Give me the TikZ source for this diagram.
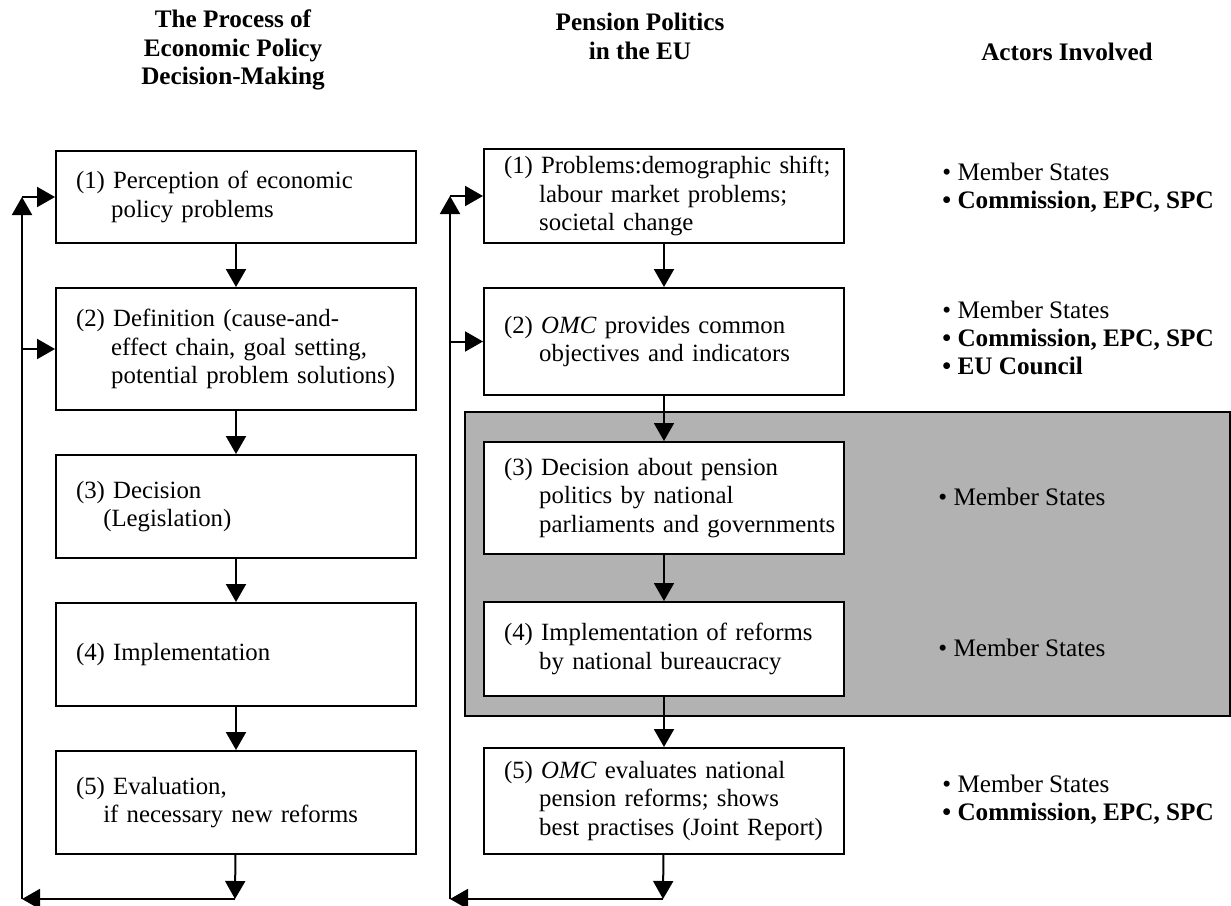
\documentclass[tikz,border=0pt]{standalone}
\usepackage{fontspec}
\setmainfont{Liberation Serif}
\usetikzlibrary{arrows.meta,positioning}

\newcommand{\hang}{\hspace*{1.42em}}
\newcommand{\sub}{\hspace*{1.1em}}

\begin{document}
\begin{tikzpicture}[x=0.5pt,y=-0.5pt,>={Triangle[length=9pt,width=10pt]},
    font=\fontsize{12.4}{14.2}\selectfont]
  \tikzstyle{stage}=[rectangle,draw=black,line width=1pt,fill=white,anchor=north west,
              text width=172pt,inner xsep=4pt,align=left,minimum width=180pt,
              execute at begin node={\leftskip=6pt}]
  \tikzstyle{panel}=[rectangle,draw=black,line width=0.8pt,fill=black!30,anchor=north west]
  \tikzstyle{flow}=[->,line width=1pt]
  \tikzstyle{head}=[align=center,font=\fontsize{12.6}{14.4}\selectfont\bfseries]
  \tikzstyle{actors}=[align=left,anchor=west,inner sep=0pt,font=\fontsize{12.6}{14}\selectfont]
  \useasboundingbox (0,0) rectangle (1231,905);

  % headings
  \node [head] (hep) at (233,50) {The Process of\\Economic Policy\\Decision-Making};
  \node [head] (hpp) at (640,36) {Pension Politics\\in the EU};
  \node [head] (hac) at (1067,52) {Actors Involved};

  % grey band for steps 3 and 4
  \node [panel,minimum width=382.5pt,minimum height=152pt] (omc) at (464,411) {};

  % economic policy cycle
  \node [stage,minimum height=46pt] (ep1) at (55,150)
    {(1) Perception of economic\\ \hang policy problems};
  \node [stage,minimum height=61pt] (ep2) at (55,287)
    {(2) Definition (cause-and-\\ \hang effect chain, goal setting,\\ \hang potential problem solutions)};
  \node [stage,minimum height=51.5pt] (ep3) at (55,454)
    {(3) Decision\\ \sub(Legislation)};
  \node [stage,minimum height=51.5pt] (ep4) at (55,602)
    {(4) Implementation};
  \node [stage,minimum height=51.5pt] (ep5) at (55,750)
    {(5) Evaluation,\\ \sub if necessary new reforms};

  % pension politics cycle
  \node [stage,minimum height=47pt] (pp1) at (483,148)
    {(1) Problems:demographic shift;\\ \hang labour market problems;\\ \hang societal change};
  \node [stage,minimum height=53.5pt] (pp2) at (483,287)
    {(2) \textit{OMC} provides common\\ \hang objectives and indicators};
  \node [stage,minimum height=56pt] (pp3) at (483,441)
    {(3) Decision about pension\\ \hang politics by national\\ \hang parliaments and governments};
  \node [stage,minimum height=47pt] (pp4) at (483,601)
    {(4) Implementation of reforms\\ \hang by national bureaucracy};
  \node [stage,minimum height=53pt] (pp5) at (483,747)
    {(5) \textit{OMC} evaluates national\\ \hang pension reforms; shows\\ \hang best practises (Joint Report)};

  % actors
  \node [actors] (ac1) at (942,188) {• Member States\\\textbf{• Commission, EPC, SPC}};
  \node [actors] (ac2) at (942,338) {• Member States\\\textbf{• Commission, EPC, SPC}\\\textbf{• EU Council}};
  \node [actors] (ac3) at (938,497) {• Member States};
  \node [actors] (ac4) at (938,648) {• Member States};
  \node [actors] (ac5) at (942,800) {• Member States\\\textbf{• Commission, EPC, SPC}};

  % feedback corners
  \coordinate (epdown) at (235,899);
  \coordinate (epcorner) at (22,899);
  \coordinate (eptop) at (epcorner |- ep1.west);
  \coordinate (epmid) at (epcorner |- ep2.west);
  \coordinate (ppdown) at (663,899);
  \coordinate (ppcorner) at (450,899);
  \coordinate (pptop) at (ppcorner |- pp1.west);
  \coordinate (ppmid) at (ppcorner |- pp2.west);

  \draw [flow] (ep1) -- (ep2);
  \draw [flow] (ep2) -- (ep3);
  \draw [flow] (ep3) -- (ep4);
  \draw [flow] (ep4) -- (ep5);
  \draw [flow] (ep5) -- (epdown);
  \draw [flow] (epdown) -- (epcorner);
  \draw [flow] (epcorner) -- (eptop);
  \draw [flow] (eptop) -- (ep1.west);
  \draw [flow] (epmid) -- (ep2.west);

  \draw [flow] (pp1) -- (pp2);
  \draw [flow] (pp2) -- (pp3);
  \draw [flow] (pp3) -- (pp4);
  \draw [flow] (pp4) -- (pp5);
  \draw [flow] (pp5) -- (ppdown);
  \draw [flow] (ppdown) -- (ppcorner);
  \draw [flow] (ppcorner) -- (pptop);
  \draw [flow] (pptop) -- (pp1.west);
  \draw [flow] (ppmid) -- (pp2.west);
\end{tikzpicture}
\end{document}
